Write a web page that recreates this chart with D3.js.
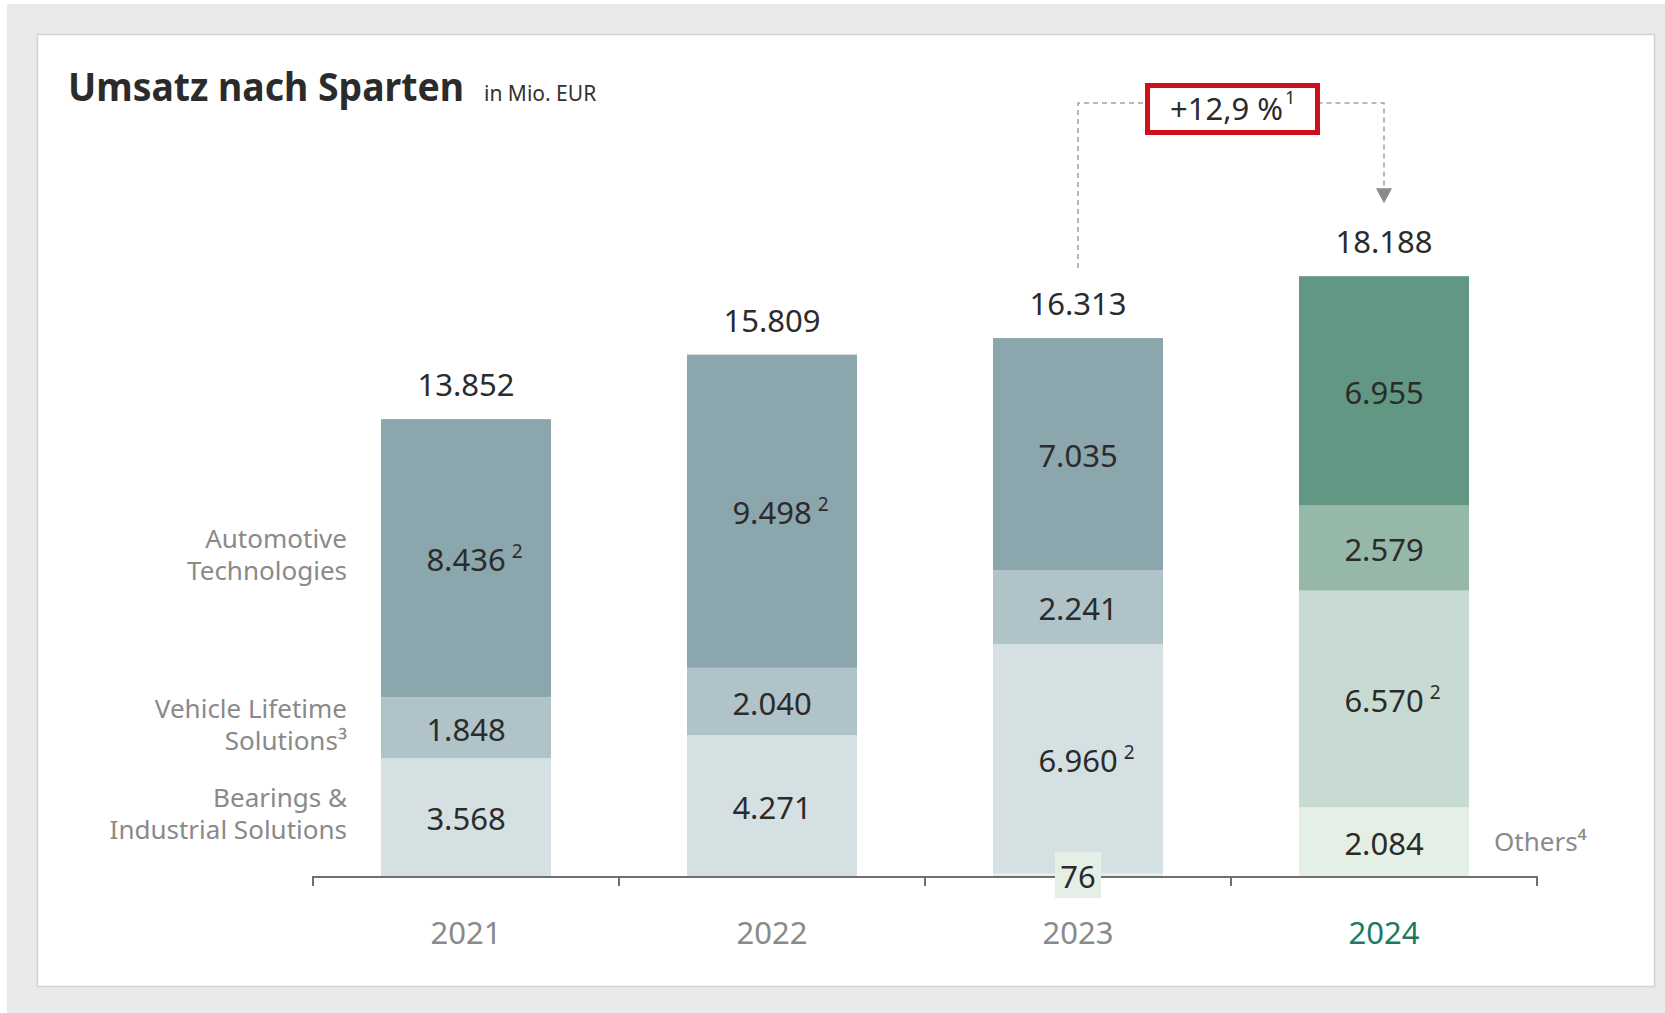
<!DOCTYPE html>
<html><head><meta charset="utf-8">
<script src="https://cdn.jsdelivr.net/npm/d3@7"></script>
<style>
html,body{margin:0;padding:0;background:#fff;}
svg{display:block;font-family:"Noto Sans",sans-serif;}
</style></head>
<body>
<svg id="chart" width="1665" height="1013"></svg>
<script>
// ---------- data ----------
const years = ["2021", "2022", "2023", "2024"];
const automotive = [8436, 9498, 7035, 6955];
const vehicleLifetime = [1848, 2040, 2241, 2579];
const bearings = [3568, 4271, 6960, 6570];
const others = [0, 0, 76, 2084];
const totals = [13852, 15809, 16313, 18188];
const automotiveNotes = ["2", "2", "", ""];
const bearingsNotes = ["", "", "2", "2"];
const categoryLabels = [["Automotive", "Technologies"], ["Vehicle Lifetime", "Solutions³"], ["Bearings &", "Industrial Solutions"]];
const othersLabel = "Others⁴";
const growthLabel = "+12,9 %";
const growthNote = "1";
const titleText = "Umsatz nach Sparten";
const unitText = "in Mio. EUR";

// ---------- setup ----------
const keys = ["others", "bearings", "vehicle", "automotive"];
const rows = years.map((y, i) => ({
  year: y, i,
  others: others[i], bearings: bearings[i], vehicle: vehicleLifetime[i], automotive: automotive[i]
}));
const notes = { automotive: automotiveNotes, bearings: bearingsNotes };
const palette = {
  old: { automotive: "#8ca6ad", vehicle: "#afc3c8", bearings: "#d5e0e2", others: "#e4efe6" },
  cur: { automotive: "#619783", vehicle: "#96b8a9", bearings: "#c8dbd3", others: "#e4efe6" }
};
const colorOf = (k, i) => (i === years.length - 1 ? palette.cur : palette.old)[k];

const de = d3.formatLocale({ decimal: ",", thousands: ".", grouping: [3], currency: ["", " €"] });
const fmt = de.format(",");

const svg = d3.select("#chart");

// background frame
svg.append("rect").attr("x", 7).attr("y", 4).attr("width", 1658).attr("height", 1009).attr("fill", "#e9e9e9");
svg.append("rect").attr("x", 37.5).attr("y", 34.5).attr("width", 1617).attr("height", 952)
  .attr("fill", "#fff").attr("stroke", "#d2d2d2").attr("stroke-width", 1.5);

// title
svg.append("text").attr("x", 68).attr("y", 101).attr("font-size", 40).attr("font-weight", 700)
  .attr("fill", "#2b2b2b").attr("textLength", 396).attr("lengthAdjust", "spacingAndGlyphs").text(titleText);
svg.append("text").attr("x", 484).attr("y", 101).attr("font-size", 21).attr("fill", "#333").text(unitText);

// scales
const axisY = 876;
const x = d3.scaleBand().domain(years).range([313, 1537]).paddingInner(0.4444).paddingOuter(0.2222);
const y = d3.scaleLinear().domain([0, 20000]).range([axisY, axisY - 20000 * 0.03298]);
const cx = yr => x(yr) + x.bandwidth() / 2;

const series = d3.stack().keys(keys)(rows);

// bars
const g = svg.append("g");
series.forEach(s => {
  g.selectAll(null).data(s).join("rect")
    .attr("x", d => x(d.data.year))
    .attr("width", x.bandwidth())
    .attr("y", d => y(d[1]))
    .attr("height", d => y(d[0]) - y(d[1]))
    .attr("fill", d => colorOf(s.key, d.data.i));
});

// axis
const step = x.step();
const bounds = [x(years[0]) + x.bandwidth() / 2 - step / 2].concat(years.map(yr => cx(yr) + step / 2));
const axisG = svg.append("g");
axisG.append("line").attr("x1", bounds[0]).attr("x2", bounds[bounds.length - 1])
  .attr("y1", axisY + 1).attr("y2", axisY + 1).attr("stroke", "#707070").attr("stroke-width", 2);
axisG.selectAll(null).data(bounds).join("line")
  .attr("x1", d => d).attr("x2", d => d).attr("y1", axisY).attr("y2", axisY + 10)
  .attr("stroke", "#707070").attr("stroke-width", 2);
axisG.selectAll(null).data(years).join("text")
  .attr("x", d => cx(d)).attr("y", 944).attr("text-anchor", "middle").attr("font-size", 31)
  .attr("fill", (d, i) => i === years.length - 1 ? "#1d7a60" : "#8a8a8a").text(d => d);

// segment labels
series.forEach(s => {
  s.forEach(d => {
    const v = d.data[s.key];
    if (!v) return;
    const h = y(d[0]) - y(d[1]);
    const xc = cx(d.data.year);
    const fs = 31;
    if (h < 20) {
      // tiny segment: label boxed on axis
      svg.append("rect").attr("x", xc - 23).attr("y", axisY - 24).attr("width", 46).attr("height", 46)
        .attr("fill", colorOf(s.key, d.data.i));
      svg.append("text").attr("x", xc).attr("y", axisY + 12).attr("text-anchor", "middle")
        .attr("font-size", fs).attr("fill", "#2b2b2b").text(fmt(v));
      return;
    }
    const mid = (y(d[0]) + y(d[1])) / 2;
    const t = svg.append("text").attr("x", xc).attr("y", mid + 13).attr("text-anchor", "middle")
      .attr("font-size", fs).attr("fill", "#2b2b2b").text(fmt(v));
    const note = notes[s.key] ? notes[s.key][d.data.i] : "";
    if (note) {
      const w = t.node().getComputedTextLength();
      svg.append("text").attr("x", xc + w / 2 + 6).attr("y", mid).attr("font-size", 19)
        .attr("fill", "#2b2b2b").text(note);
    }
  });
});

// totals
svg.selectAll(null).data(totals).join("text")
  .attr("x", (d, i) => cx(years[i])).attr("y", d => y(d) - 23).attr("text-anchor", "middle")
  .attr("font-size", 31).attr("fill", "#2b2b2b").text(d => fmt(d));

// category labels (aligned to first bar's segments), one text per line
const catKeys = ["automotive", "vehicle", "bearings"];
catKeys.forEach((k, j) => {
  const s = series.find(ss => ss.key === k)[0];
  const mid = (y(s[0]) + y(s[1])) / 2;
  categoryLabels[j].forEach((line, li) => {
    svg.append("text").attr("text-anchor", "end").attr("font-size", 26).attr("fill", "#8a8a8a")
      .attr("x", 347).attr("y", mid - 10 + li * 32).text(line);
  });
});

// others label next to last bar
{
  const last = series.find(ss => ss.key === "others")[years.length - 1];
  const mid = (y(last[0]) + y(last[1])) / 2;
  svg.append("text").attr("x", x(years[3]) + x.bandwidth() + 25).attr("y", mid + 9)
    .attr("font-size", 26).attr("fill", "#8a8a8a").text(othersLabel);
}

// growth annotation
{
  const x1 = cx(years[2]), x2 = cx(years[3]);
  const bracketY = 103;
  const bx0 = 1147.5, bx1 = 1317.5;
  const dash = "5,4";
  const ann = svg.append("g").attr("stroke", "#a3a3a3").attr("stroke-width", 1.5).attr("fill", "none").attr("stroke-dasharray", dash);
  ann.append("path").attr("d", `M${x1},${y(totals[2]) - 70} V${bracketY} H${bx0}`);
  ann.append("path").attr("d", `M${bx1},${bracketY} H${x2} V${y(totals[3]) - 86}`);
  const tip = y(totals[3]) - 73;
  svg.append("path").attr("d", `M${x2 - 8},${tip - 15} L${x2 + 8},${tip - 15} L${x2},${tip} Z`).attr("fill", "#8a8a8a");
  svg.append("rect").attr("x", bx0).attr("y", 85.5).attr("width", bx1 - bx0).attr("height", 47)
    .attr("fill", "#fff").attr("stroke", "#cc0f1a").attr("stroke-width", 5);
  const t = svg.append("text").attr("x", (bx0 + bx1) / 2 - 6).attr("y", 120).attr("text-anchor", "middle")
    .attr("font-size", 31).attr("fill", "#2b2b2b").text(growthLabel);
  const w = t.node().getComputedTextLength();
  svg.append("text").attr("x", (bx0 + bx1) / 2 - 6 + w / 2 + 2).attr("y", 104).attr("font-size", 18)
    .attr("fill", "#2b2b2b").text(growthNote);
}
</script>
</body></html>
